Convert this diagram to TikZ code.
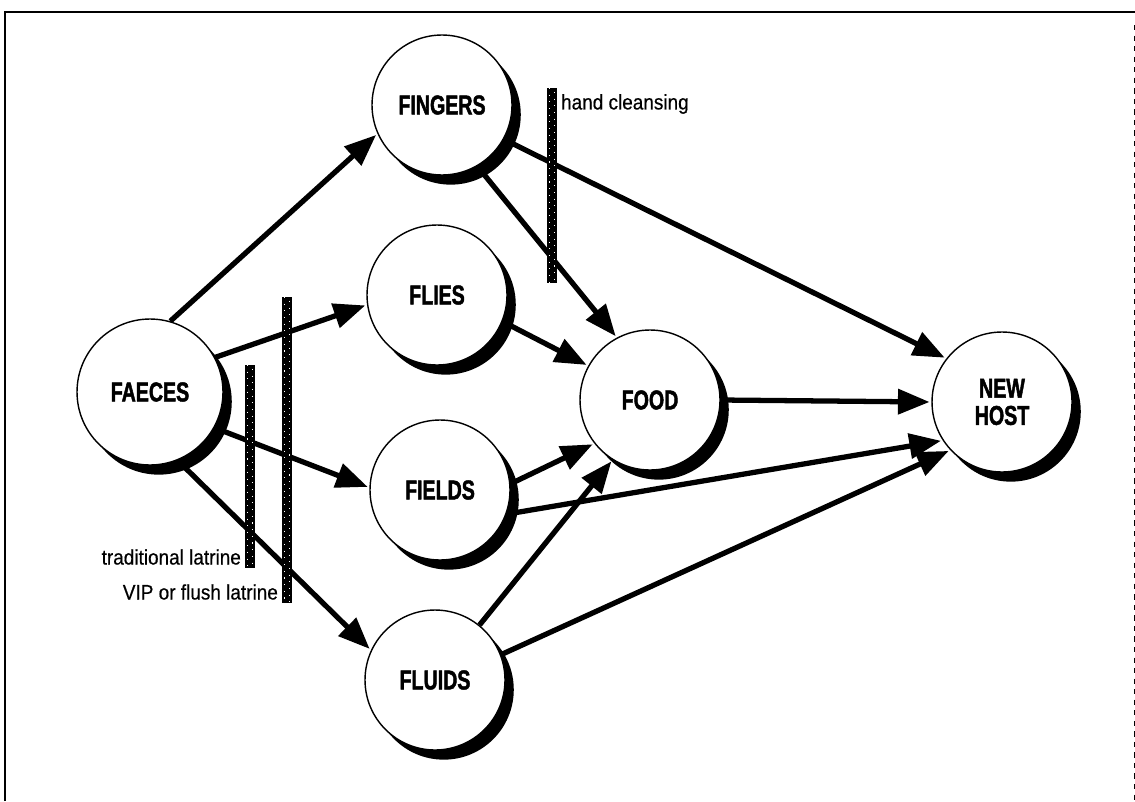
\documentclass[tikz,border=0pt]{standalone}
\usepackage{fontspec}
\usepackage{tikz}
\usetikzlibrary{arrows.meta,shadows}
\newfontfamily\blobfont[FakeStretch=0.72,BoldFeatures={FakeBold=1.6}]{Liberation Sans}
\newfontfamily\notefont[FakeStretch=0.9,FakeBold=0.5]{Liberation Sans}

\begin{document}
\begin{tikzpicture}[x=0.02cm,y=-0.02cm,
	blob/.style={circle,draw,line width=0.8pt,fill=white,minimum size=2.8cm,inner sep=0pt,align=center,
		font=\blobfont\bfseries\fontsize{15.5}{15.5}\selectfont,
		drop shadow={opacity=1,fill=black,shadow xshift=5pt,shadow yshift=-5.5pt}},
	flow/.style={line width=3pt,-{Triangle[length=18pt,width=14pt]},shorten >=1pt},
	barrier/.style={rectangle,fill=black,minimum width=0.2cm,inner sep=0pt,
		path picture={
			\foreach \d/\p in {-1.3pt/0pt,1.3pt/1.6pt}
				\draw[white,line width=0.35pt,dash pattern=on 0.6pt off 3.2pt,dash phase=\p]
					([xshift=\d]path picture bounding box.north) -- ([xshift=\d]path picture bounding box.south);
		}},
	note/.style={font=\notefont\fontsize{12}{12}\selectfont,inner sep=1pt}]
	\useasboundingbox (0,0) rectangle (1135,801);
	\draw[line width=1.2pt] (5,801) -- (5,12) -- (1135,12);
	\draw[line width=0.5pt,dashed] (1134,25) -- (1134,801);

	\node[blob,minimum size=2.92cm] (faeces) at (150,392) {FAECES};
	\node[blob] (fingers) at (442,105) {FINGERS};
	\node[blob] (flies) at (437,295) {FLIES};
	\node[blob] (fields) at (440,490) {FIELDS};
	\node[blob] (fluids) at (435,680) {FLUIDS};
	\node[blob] (food) at (650,400) {FOOD};
	\node[blob] (newhost) at (1002,402) {NEW\\HOST};

	\foreach \a/\b in {faeces.74/fingers.204, faeces.28/flies.188, faeces.-29/fields.178,
		faeces.-68/fluids.155, fingers.-60/food.118, fingers.-29/newhost.142,
		flies.-22/food.151, fields.5/food.218, fields.-20/newhost.213,
		fluids.51/food.238, fluids.21/newhost.223, food.east/newhost.west}
		\draw[flow] (\a) -- (\b);

	\node[barrier,minimum height=3.9cm] (handbar) at (552,185.5) {};
	\node[barrier,minimum height=4.06cm] (tradbar) at (250,466.5) {};
	\node[barrier,minimum height=6.12cm] (vipbar) at (287,450) {};

	\node[note,anchor=west] (handtext) at (559,104) {hand cleansing};
	\node[note,anchor=east] (tradtext) at (243,557) {traditional latrine};
	\node[note,anchor=east] (viptext) at (280,592) {VIP or flush latrine};
\end{tikzpicture}
\end{document}
